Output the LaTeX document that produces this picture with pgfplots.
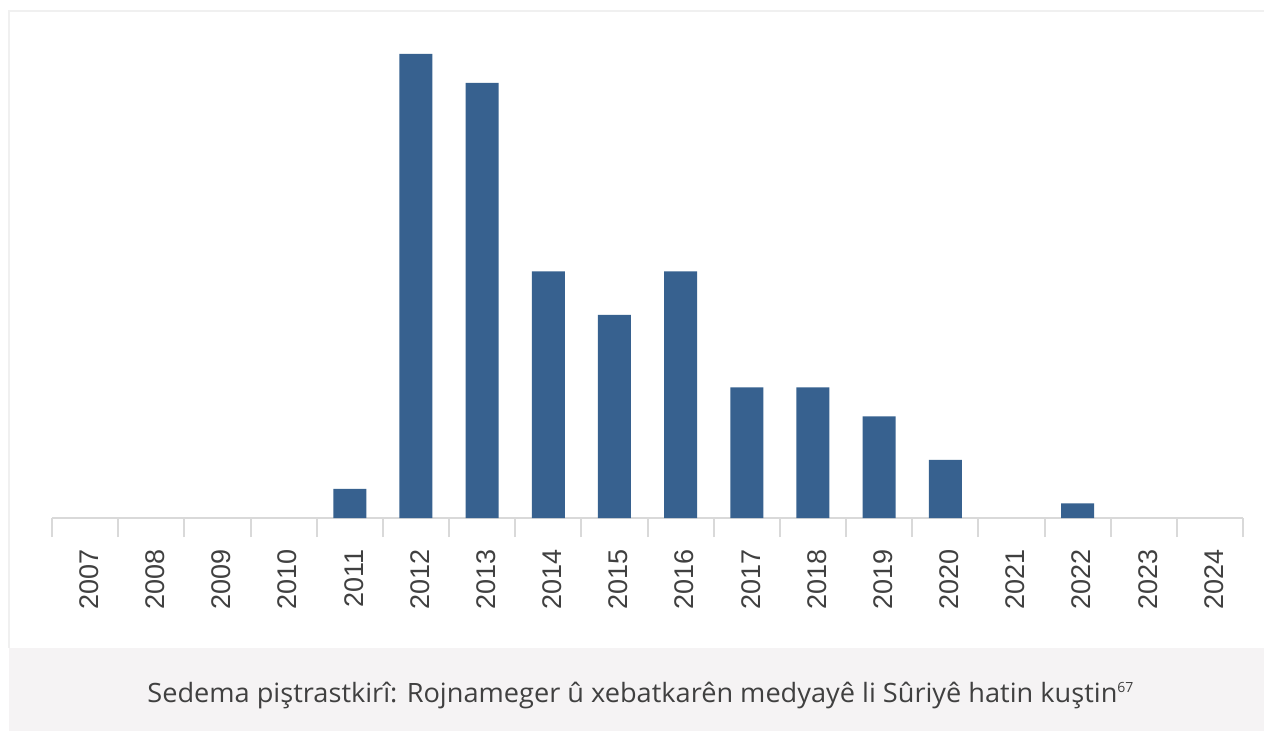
\documentclass[border=0pt]{standalone}
\usepackage{graphicx}
\usepackage{pgfplots}
\pgfplotsset{compat=1.18}
\usepackage{fontspec}
\setmainfont{Liberation Sans}
\newfontfamily\capfont{Open Sans}
\definecolor{barblue}{HTML}{37618F}
\definecolor{axisgray}{HTML}{D9D9D9}
\definecolor{framegray}{HTML}{F0F0F0}
\definecolor{capband}{HTML}{F5F3F4}
\definecolor{labelgray}{HTML}{404040}

\begin{document}
\begin{tikzpicture}
\useasboundingbox (0,0) rectangle (632pt,-365.5pt);
\fill[white] (0,0) rectangle (632pt,-365.5pt);
\draw[framegray, line width=1pt] (4.5pt,-324pt) -- (4.5pt,-5.5pt) -- (640pt,-5.5pt);
\fill[capband] (4.5pt,-324pt) rectangle (632pt,-365.5pt);

\begin{axis}[
    at={(26pt,-259pt)}, anchor=south west,
    scale only axis, width=595.5pt, height=249pt,
    xmin=-0.5, xmax=17.5, ymin=0, ymax=34.34,
    axis y line=none, axis x line*=bottom,
    x axis line style={draw=axisgray, line width=1pt},
    ybar, bar width=16.5pt,
    xtick={0,...,17},
    xticklabels={2007,2008,2009,2010,2011,2012,2013,2014,2015,2016,2017,2018,2019,2020,2021,2022,2023,2024},
    major tick length=0pt,
    xticklabel style={font=\fontsize{13.5pt}{15pt}\selectfont, text=labelgray, xshift=2pt, rotate=90, anchor=east},
    xticklabel shift=12pt,
    extra x ticks={-0.5,0.5,...,17.5},
    extra x tick labels={},
    extra x tick style={tick align=outside, major tick length=9.5pt,
        tick style={draw=axisgray, line width=1pt}},
    clip=false,
]
\addplot[fill=barblue, draw=none] coordinates {
    (4,2) (5,32) (6,30) (7,17) (8,14) (9,17) (10,9) (11,9) (12,7) (13,4) (15,1)
};
\end{axis}

\node[anchor=base west, text=labelgray, inner sep=0pt] at (73.5pt,-351.5pt)
  {\capfont\resizebox{485pt}{\height}{\fontsize{13.3pt}{16pt}\selectfont Sedema piştrastkirî: Rojnameger û xebatkarên medyayê li Sûriyê hatin kuştin}\raisebox{5pt}{\fontsize{7pt}{8pt}\selectfont 67}};
\end{tikzpicture}
\end{document}
